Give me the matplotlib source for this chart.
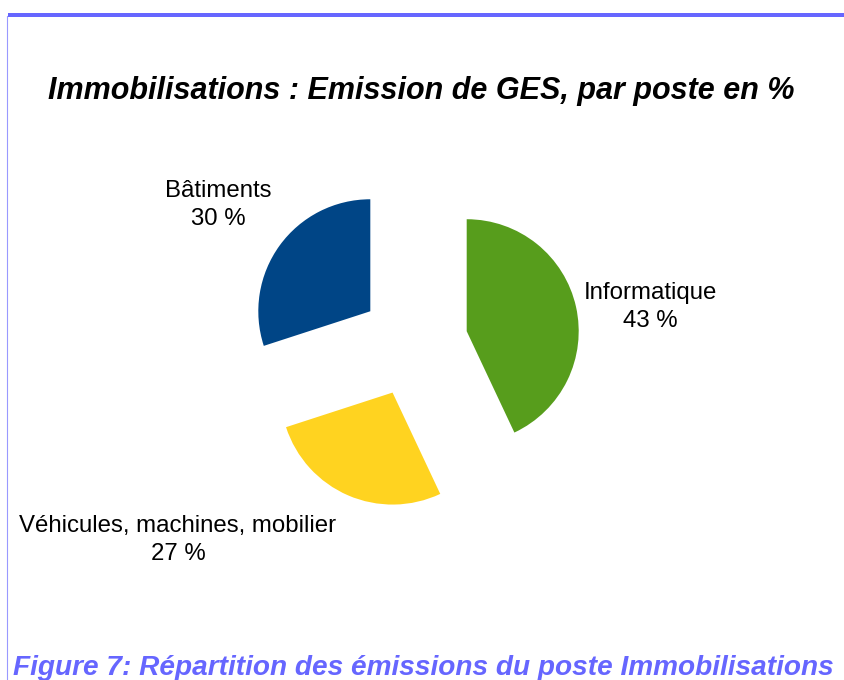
import matplotlib
matplotlib.use("Agg")
from matplotlib import pyplot
from matplotlib.patches import Rectangle

plt = pyplot
plt.rcParams['font.family'] = ['Liberation Sans', 'DejaVu Sans']

# data
postes = ['Informatique', 'Véhicules, machines, mobilier', 'Bâtiments']
parts = [43, 27, 30]
couleurs = ['#579d1c', '#ffd320', '#004586']

W, H = 845, 680
fig = plt.figure(figsize=(W / 100, H / 100), dpi=100)
ax = fig.add_axes([0, 0, 1, 1])

# frame lines
ax.add_patch(Rectangle((8, H - 17), W - 8, 4, color='#6666ff', lw=0))
ax.plot([7, 7], [0, H - 16], color='#9999ff', lw=0.8)

ax.text(421, H - 91, 'Immobilisations : Emission de GES, par poste en %',
        ha='center', va='center', fontsize=22, fontweight='bold',
        fontstyle='italic', color='black')

wedges, _ = ax.pie(parts, colors=couleurs, startangle=90, counterclock=False,
                   center=(414, H - 343), radius=112, explode=[54] * 3,
                   wedgeprops=dict(linewidth=0), frame=True)
ax.set_xlim(0, W)
ax.set_ylim(0, H)
ax.set_aspect('equal')
ax.axis('off')

label_pos = [(650, H - 307), (178, H - 540), (218, H - 205)]
for nom, p, (lx, ly) in zip(postes, parts, label_pos):
    ax.text(lx, ly, f'{nom}\n{p} %', ha='center', va='center',
            fontsize=17.3, linespacing=1.38)

ax.text(423, 5, 'Figure 7: Répartition des émissions du poste Immobilisations',
        ha='center', va='baseline', fontsize=20.2, fontweight='bold',
        fontstyle='italic', color='#6666ff')

fig.savefig('out.png', dpi=100)
